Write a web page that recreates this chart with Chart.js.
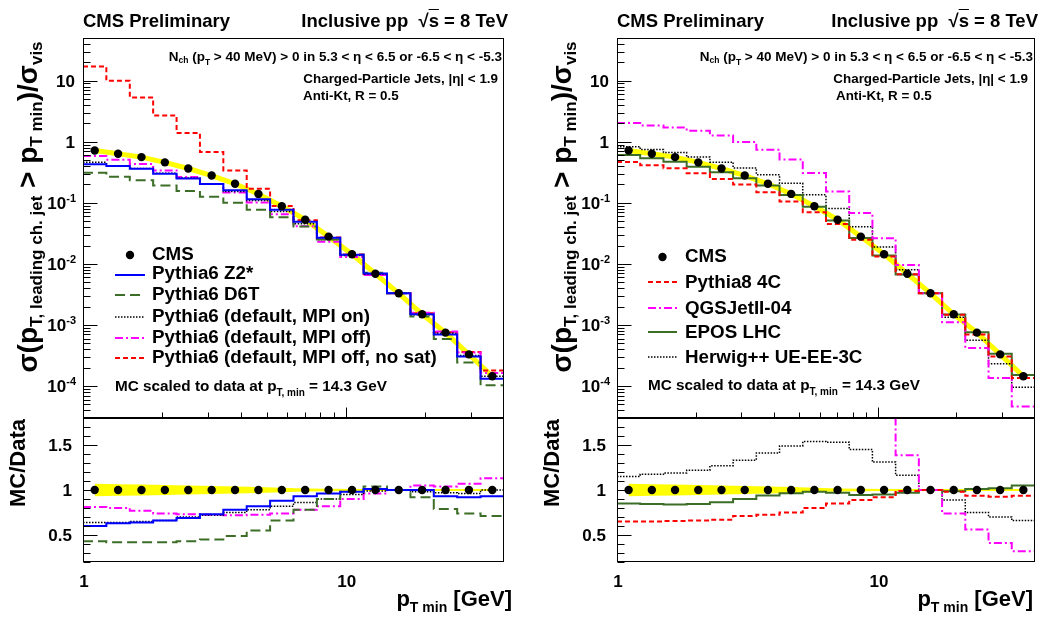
<!DOCTYPE html>
<html>
<head>
<meta charset="utf-8">
<title>Leading charged-particle jet cross section, pp 8 TeV</title>
<script src="https://cdn.jsdelivr.net/npm/chart.js@4.4.1/dist/chart.umd.min.js"></script>
<style>
  body { margin: 0; background: #fff; }
  #page { position: relative; width: 1053px; height: 619px; overflow: hidden;
          font-family: "Liberation Sans", Arial, sans-serif; font-weight: bold; color: #000; }
  #page canvas { position: absolute; left: 0; top: 0; }
  .txt { position: absolute; white-space: nowrap; line-height: 1; }
  .sub { position: relative; }
  .rot { position: absolute; white-space: nowrap; line-height: 1; transform: translate(-50%, -50%) rotate(-90deg); }
  .ov { text-decoration: overline; }
</style>
</head>
<body>
<div id="page">
  <canvas id="leftMain" width="1053" height="619"></canvas>
  <canvas id="leftRatio" width="1053" height="619"></canvas>
  <canvas id="rightMain" width="1053" height="619"></canvas>
  <canvas id="rightRatio" width="1053" height="619"></canvas>

  <!-- left panel texts -->
  <div class="txt" style="left:83px;top:12px;font-size:18.5px">CMS Preliminary</div>
  <div class="txt" style="right:545px;top:12px;font-size:18.5px">Inclusive pp&nbsp; √<span class="ov">s</span> = 8 TeV</div>
  <div class="txt" style="right:551px;top:50px;font-size:13.5px">N<span class="sub" style="font-size:8.5px;top:2px">ch</span> (p<span class="sub" style="font-size:8.5px;top:4px">T</span> &gt; 40 MeV) &gt; 0 in 5.3 &lt; η &lt; 6.5 or -6.5 &lt; η &lt; -5.3</div>
  <div class="txt" style="right:555px;top:72px;font-size:13.4px">Charged-Particle Jets, |η| &lt; 1.9</div>
  <div class="txt" style="left:303px;top:89px;font-size:13.4px">Anti-Kt, R = 0.5</div>
  <div class="txt" style="left:152px;top:245px;font-size:18.8px">CMS</div>
  <div class="txt" style="left:152px;top:264px;font-size:18.8px">Pythia6 Z2*</div>
  <div class="txt" style="left:152px;top:285px;font-size:18.8px">Pythia6 D6T</div>
  <div class="txt" style="left:152px;top:307px;font-size:18.8px">Pythia6 (default, MPI on)</div>
  <div class="txt" style="left:152px;top:328px;font-size:18.8px">Pythia6 (default, MPI off)</div>
  <div class="txt" style="left:152px;top:348px;font-size:18.8px">Pythia6 (default, MPI off, no sat)</div>
  <div class="txt" style="left:115px;top:378px;font-size:15.3px">MC scaled to data at p<span class="sub" style="font-size:10px;top:5px">T, min</span> = 14.3 GeV</div>
  <div class="rot" style="left:28px;top:207px;font-size:28px">σ(p<span class="sub" style="font-size:17px;top:5px">T, leading ch. jet</span> &gt; p<span class="sub" style="font-size:17px;top:5px">T min</span>)/σ<span class="sub" style="font-size:17px;top:5px">vis</span></div>
  <div class="rot" style="left:18px;top:463px;font-size:22px">MC/Data</div>
  <div class="txt" style="right:541px;top:588px;font-size:22px">p<span class="sub" style="font-size:14px;top:6px">T min</span> [GeV]</div>

  <!-- right panel texts -->
  <div class="txt" style="left:617px;top:12px;font-size:18.5px">CMS Preliminary</div>
  <div class="txt" style="right:15px;top:12px;font-size:18.5px">Inclusive pp&nbsp; √<span class="ov">s</span> = 8 TeV</div>
  <div class="txt" style="right:20px;top:50px;font-size:13.5px">N<span class="sub" style="font-size:8.5px;top:2px">ch</span> (p<span class="sub" style="font-size:8.5px;top:4px">T</span> &gt; 40 MeV) &gt; 0 in 5.3 &lt; η &lt; 6.5 or -6.5 &lt; η &lt; -5.3</div>
  <div class="txt" style="right:25px;top:72px;font-size:13.4px">Charged-Particle Jets, |η| &lt; 1.9</div>
  <div class="txt" style="left:836px;top:89px;font-size:13.4px">Anti-Kt, R = 0.5</div>
  <div class="txt" style="left:685px;top:247px;font-size:18.8px">CMS</div>
  <div class="txt" style="left:685px;top:273px;font-size:18.8px">Pythia8 4C</div>
  <div class="txt" style="left:685px;top:299px;font-size:18.8px">QGSJetII-04</div>
  <div class="txt" style="left:685px;top:323px;font-size:18.8px">EPOS LHC</div>
  <div class="txt" style="left:685px;top:348px;font-size:18.8px">Herwig++ UE-EE-3C</div>
  <div class="txt" style="left:648px;top:377px;font-size:15.3px">MC scaled to data at p<span class="sub" style="font-size:10px;top:5px">T, min</span> = 14.3 GeV</div>
  <div class="rot" style="left:562px;top:207px;font-size:28px">σ(p<span class="sub" style="font-size:17px;top:5px">T, leading ch. jet</span> &gt; p<span class="sub" style="font-size:17px;top:5px">T min</span>)/σ<span class="sub" style="font-size:17px;top:5px">vis</span></div>
  <div class="rot" style="left:552px;top:463px;font-size:22px">MC/Data</div>
  <div class="txt" style="right:20px;top:588px;font-size:22px">p<span class="sub" style="font-size:14px;top:6px">T min</span> [GeV]</div>
</div>

<script>
/* values */

// pT,min bins [GeV]: edges and bin centres
const ptEdges = [1.0, 1.227, 1.507, 1.849, 2.270, 2.786, 3.420, 4.197, 5.152, 6.324, 7.762, 9.527, 11.69, 14.35, 17.62, 21.62, 26.54, 32.58, 40.0];
const ptCenters = [1.108, 1.360, 1.669, 2.049, 2.515, 3.087, 3.789, 4.651, 5.708, 7.006, 8.600, 10.56, 12.96, 15.90, 19.52, 23.96, 29.41, 36.10];

// CMS data and relative half-width of the yellow band
const cmsData = [0.72, 0.635, 0.56, 0.46, 0.365, 0.28, 0.205, 0.14, 0.088, 0.053, 0.028, 0.0144, 0.0069, 0.0033, 0.0015, 0.00075, 0.00033, 0.000145];
const cmsErr = [0.07, 0.065, 0.06, 0.055, 0.05, 0.045, 0.04, 0.032, 0.025, 0.018, 0.013, 0.01, 0.01, 0.01, 0.01, 0.01, 0.01, 0.01];

// left panel: PYTHIA6
const z2Main = [0.43, 0.40, 0.36, 0.30, 0.25, 0.204, 0.16, 0.115, 0.077, 0.049, 0.0269, 0.0141, 0.0070, 0.0033, 0.0015, 0.00070, 0.000304, 0.000132];
const z2Ratio = [0.60, 0.63, 0.64, 0.66, 0.69, 0.73, 0.78, 0.82, 0.88, 0.93, 0.96, 0.98, 1.01, 1.0, 1.0, 0.93, 0.92, 0.93];
const d6tMain = [0.31, 0.267, 0.235, 0.193, 0.157, 0.126, 0.10, 0.077, 0.058, 0.041, 0.025, 0.0141, 0.0072, 0.0033, 0.00138, 0.00059, 0.000244, 0.000103];
const d6tRatio = [0.43, 0.42, 0.42, 0.42, 0.43, 0.45, 0.49, 0.55, 0.66, 0.78, 0.90, 0.98, 1.04, 1.0, 0.92, 0.79, 0.74, 0.71];
const mpiOnMain = [0.46, 0.406, 0.364, 0.304, 0.256, 0.202, 0.154, 0.109, 0.072, 0.0456, 0.0252, 0.0137, 0.0068, 0.0033, 0.00147, 0.00073, 0.000317, 0.000145];
const mpiOnRatio = [0.64, 0.64, 0.65, 0.66, 0.70, 0.72, 0.75, 0.78, 0.82, 0.86, 0.90, 0.95, 0.99, 1.0, 0.98, 0.97, 0.96, 1.0];
const mpiOffMain = [0.583, 0.508, 0.431, 0.34, 0.266, 0.203, 0.148, 0.1015, 0.065, 0.0413, 0.023, 0.013, 0.0066, 0.0033, 0.00158, 0.00078, 0.000353, 0.000164];
const mpiOffRatio = [0.81, 0.80, 0.77, 0.74, 0.73, 0.725, 0.72, 0.725, 0.74, 0.78, 0.82, 0.90, 0.96, 1.0, 1.05, 1.04, 1.07, 1.13];
const noSatMain = [17, 10, 5.3, 2.7, 1.39, 0.68, 0.34, 0.17, 0.089, 0.052, 0.027, 0.0142, 0.0068, 0.0033, 0.00155, 0.00076, 0.00036, 0.00018];

// right panel: other generators
const p8Main = [0.468, 0.413, 0.367, 0.304, 0.245, 0.199, 0.149, 0.105, 0.070, 0.045, 0.0249, 0.0132, 0.0068, 0.0033, 0.00147, 0.00070, 0.000305, 0.000136];
const p8Ratio = [0.65, 0.65, 0.655, 0.66, 0.67, 0.71, 0.725, 0.75, 0.80, 0.85, 0.89, 0.92, 0.99, 1.0, 0.98, 0.935, 0.925, 0.935];
const qgsMain = [2.02, 1.85, 1.72, 1.51, 1.27, 0.99, 0.74, 0.51, 0.307, 0.153, 0.068, 0.0264, 0.0096, 0.0033, 0.00111, 0.00042, 0.000135, 0.0000464];
const qgsRatio = [2.8, 2.9, 3.1, 3.3, 3.5, 3.5, 3.6, 3.6, 3.5, 2.9, 2.4, 1.83, 1.385, 1.0, 0.74, 0.56, 0.41, 0.32];
const eposMain = [0.61, 0.537, 0.47, 0.389, 0.316, 0.252, 0.193, 0.135, 0.086, 0.0514, 0.0265, 0.0137, 0.0067, 0.0033, 0.00148, 0.00076, 0.000337, 0.000152];
const eposRatio = [0.85, 0.845, 0.84, 0.845, 0.865, 0.90, 0.94, 0.965, 0.98, 0.97, 0.945, 0.95, 0.97, 1.0, 0.985, 1.01, 1.02, 1.05];
const herwigMain = [0.83, 0.746, 0.666, 0.561, 0.464, 0.372, 0.289, 0.209, 0.1355, 0.081, 0.0406, 0.0189, 0.0080, 0.0033, 0.00134, 0.00056, 0.000231, 0.0000957];
const herwigRatio = [1.15, 1.175, 1.19, 1.22, 1.27, 1.33, 1.41, 1.49, 1.54, 1.53, 1.45, 1.31, 1.165, 1.0, 0.89, 0.75, 0.70, 0.66];

// axis ranges
const xRange = [1, 40];
const mainRange = [3.0e-5, 50];
const ratioRange = [0.2, 1.8];

/* styles */
const FONT = '"Liberation Sans", Arial, sans-serif';
const BLUE = '#0000ff', GREEN = '#3c6e28', RED = '#ff0000', MAGENTA = '#ff00ff', BLACK = '#000000', YELLOW = '#ffff00';
const DASH = { solid: [], long: [10, 5], short: [5, 3], dashdot: [8, 3, 2, 3], dot: [1.5, 1.5] };

function histo(vals, color, dash, width) {
  const pts = vals.map((v, i) => ({ x: ptEdges[i], y: v }));
  pts.push({ x: ptEdges[ptEdges.length - 1], y: vals[vals.length - 1] });
  return { data: pts, borderColor: color, borderDash: dash, borderWidth: width,
           stepped: true, pointRadius: 0, fill: false, clip: 0 };
}

function points(vals) {
  return { data: vals.map((v, i) => ({ x: ptCenters[i], y: v })), showLine: false,
           pointRadius: 4.2, pointBackgroundColor: BLACK, pointBorderWidth: 0, borderColor: BLACK };
}

// frame, ROOT-like inside ticks and tick labels
function supLabel(ctx, xr, y, base, exp) {
  ctx.font = 'bold 11px ' + FONT;
  const ew = ctx.measureText(exp).width;
  ctx.textAlign = 'left';
  ctx.fillText(exp, xr - ew, y - 1);
  ctx.font = 'bold 17px ' + FONT;
  ctx.textAlign = 'right';
  ctx.fillText(base, xr - ew, y + 6);
}

const rootAxes = {
  id: 'rootAxes',
  afterDatasetsDraw(chart, args, o) {
    const { ctx, chartArea: a, scales } = chart;
    const xs = scales.x, ys = scales.y;
    const L = Math.round(a.left) + 0.5, T = Math.round(a.top) + 0.5;
    const R = Math.round(a.right) - 0.5, B = Math.round(a.bottom) - 0.5;
    ctx.save();
    ctx.strokeStyle = BLACK; ctx.fillStyle = BLACK; ctx.lineWidth = 1; ctx.setLineDash([]);
    ctx.strokeRect(L, T, R - L, B - T);
    ctx.beginPath();
    if (o.kind === 'main') {
      for (let e = -5; e <= 1; e++) {
        for (let k = 1; k <= 9; k++) {
          const v = k * Math.pow(10, e);
          if (v < mainRange[0] || v > mainRange[1]) continue;
          const py = Math.round(ys.getPixelForValue(v)) + 0.5;
          ctx.moveTo(L, py); ctx.lineTo(L + (k === 1 ? 14 : 7), py);
        }
      }
      for (let d = 1; d <= 10; d *= 10) {
        for (let k = 1; k <= 9; k++) {
          const v = k * d;
          if (v <= xRange[0] || v >= xRange[1]) continue;
          const px = Math.round(xs.getPixelForValue(v)) + 0.5;
          ctx.moveTo(px, B); ctx.lineTo(px, B - (k === 1 ? 10 : 5));
        }
      }
    } else {
      for (let i = 2; i <= 18; i++) {
        const py = Math.round(ys.getPixelForValue(i / 10)) + 0.5;
        ctx.moveTo(L, py); ctx.lineTo(L + (i % 5 === 0 ? 14 : 7), py);
      }
    }
    ctx.stroke();

    ctx.textBaseline = 'alphabetic';
    if (o.kind === 'main') {
      for (let e = -4; e <= 1; e++) {
        const py = ys.getPixelForValue(Math.pow(10, e));
        if (e === 0 || e === 1) {
          ctx.font = 'bold 17px ' + FONT; ctx.textAlign = 'right';
          ctx.fillText(e === 0 ? '1' : '10', a.left - 8, py + 6);
        } else {
          supLabel(ctx, a.left - 7, py, '10', String(e));
        }
      }
    } else {
      ctx.font = 'bold 17px ' + FONT; ctx.textAlign = 'right';
      [[0.5, '0.5'], [1, '1'], [1.5, '1.5']].forEach(([v, t]) => {
        ctx.fillText(t, a.left - 11, ys.getPixelForValue(v) + 6);
      });
      ctx.textAlign = 'center';
      [[1, '1'], [10, '10']].forEach(([v, t]) => {
        ctx.fillText(t, xs.getPixelForValue(v) + 1, 587);
      });
    }
    ctx.restore();
  }
};

// legend samples (line pieces and the data marker); labels are HTML text
const legendSamples = {
  id: 'legendSamples',
  afterDraw(chart, args, o) {
    if (!o.rows) return;
    const ctx = chart.ctx;
    ctx.save();
    o.rows.forEach((y, i) => {
      const ds = chart.data.datasets[o.sets[i]];
      if (ds.showLine === false) {
        ctx.fillStyle = BLACK;
        ctx.beginPath(); ctx.arc((o.x0 + o.x1) / 2, y, 4.2, 0, 2 * Math.PI); ctx.fill();
      } else {
        ctx.strokeStyle = ds.borderColor; ctx.lineWidth = ds.borderWidth;
        ctx.setLineDash(ds.borderDash || []);
        ctx.beginPath(); ctx.moveTo(o.x0, y); ctx.lineTo(o.x1, y); ctx.stroke();
      }
    });
    ctx.restore();
  }
};

function makeChart(id, datasets, yType, yRange, pad, kind, legend) {
  return new Chart(document.getElementById(id), {
    type: 'line',
    data: { datasets },
    options: {
      responsive: false,
      animation: false,
      events: [],
      layout: { padding: pad },
      plugins: { legend: { display: false }, tooltip: { enabled: false },
                 rootAxes: { kind }, legendSamples: legend || {} },
      scales: {
        x: { type: 'logarithmic', min: xRange[0], max: xRange[1], display: false },
        y: { type: yType, min: yRange[0], max: yRange[1], display: false },
      },
    },
    plugins: [rootAxes, legendSamples],
  });
}

const ratioOne = cmsData.map(() => 1);
const bandHi = cmsErr.map(e => 1 + e);
const bandLo = cmsErr.map(e => 1 - e);

function yellowLine(vals) {
  return { data: vals.map((v, i) => ({ x: ptCenters[i], y: v })), borderColor: YELLOW,
           borderWidth: 5, pointRadius: 0, fill: false };
}
function band() {
  return [
    { data: bandHi.map((v, i) => ({ x: ptCenters[i], y: v })), borderWidth: 0, pointRadius: 0,
      backgroundColor: YELLOW, fill: '+1' },
    { data: bandLo.map((v, i) => ({ x: ptCenters[i], y: v })), borderWidth: 0, pointRadius: 0, fill: false },
  ];
}

// left panel
const padLeftMain = { left: 83, top: 38, right: 549, bottom: 201 };
const padLeftRatio = { left: 83, top: 418, right: 549, bottom: 57 };
makeChart('leftMain', [
  points(cmsData),
  histo(z2Main, BLUE, DASH.solid, 2),
  histo(d6tMain, GREEN, DASH.long, 2),
  histo(mpiOnMain, BLACK, DASH.dot, 1.5),
  histo(mpiOffMain, MAGENTA, DASH.dashdot, 2),
  histo(noSatMain, RED, DASH.short, 2),
  yellowLine(cmsData),
], 'logarithmic', mainRange, padLeftMain, 'main',
  { x0: 115, x1: 145, rows: [255, 275, 295, 317, 338, 358], sets: [0, 1, 2, 3, 4, 5] });

makeChart('leftRatio', [
  points(ratioOne),
  histo(z2Ratio, BLUE, DASH.solid, 2),
  histo(d6tRatio, GREEN, DASH.long, 2),
  histo(mpiOnRatio, BLACK, DASH.dot, 1.5),
  histo(mpiOffRatio, MAGENTA, DASH.dashdot, 2),
  ...band(),
], 'linear', ratioRange, padLeftRatio, 'ratio');

// right panel
const padRightMain = { left: 617, top: 38, right: 18, bottom: 201 };
const padRightRatio = { left: 617, top: 418, right: 18, bottom: 57 };
makeChart('rightMain', [
  points(cmsData),
  histo(p8Main, RED, DASH.short, 2),
  histo(qgsMain, MAGENTA, DASH.dashdot, 2),
  histo(eposMain, GREEN, DASH.solid, 2),
  histo(herwigMain, BLACK, DASH.dot, 1.5),
  yellowLine(cmsData),
], 'logarithmic', mainRange, padRightMain, 'main',
  { x0: 648, x1: 677, rows: [257, 282, 308, 332, 357], sets: [0, 1, 2, 3, 4] });

makeChart('rightRatio', [
  points(ratioOne),
  histo(p8Ratio, RED, DASH.short, 2),
  histo(qgsRatio, MAGENTA, DASH.dashdot, 2),
  histo(eposRatio, GREEN, DASH.solid, 2),
  histo(herwigRatio, BLACK, DASH.dot, 1.5),
  ...band(),
], 'linear', ratioRange, padRightRatio, 'ratio');
</script>
</body>
</html>
